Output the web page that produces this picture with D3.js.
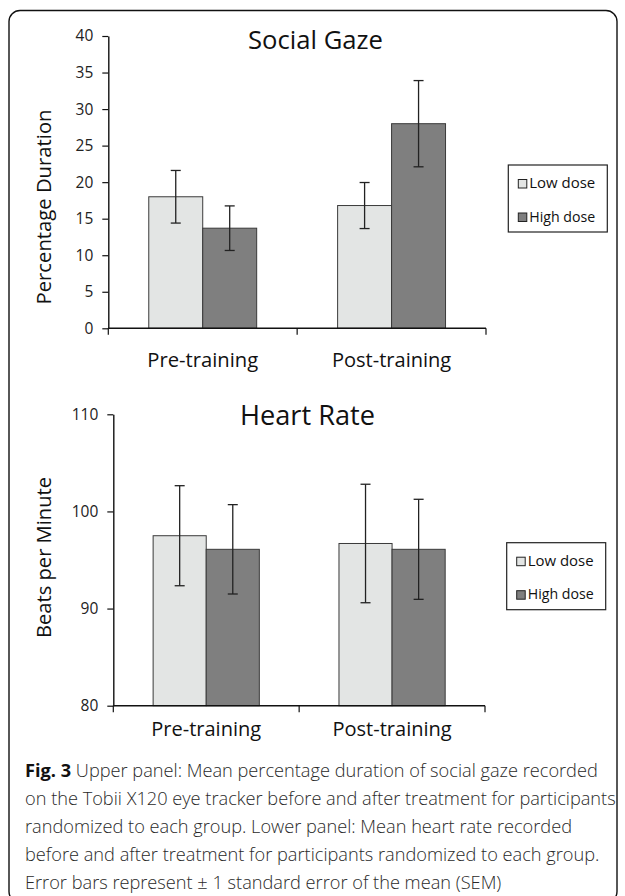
<!DOCTYPE html>
<html><head><meta charset="utf-8">
<script src="https://cdn.jsdelivr.net/npm/d3@7"></script>
<style>body{margin:0;background:#fff}svg{display:block}</style>
</head><body><svg id="c" width="625" height="896"></svg>
<script>
// ---- data ----
const categories = ["Pre-training", "Post-training"];
const series = ["Low dose", "High dose"];
const gazeLow = [18.0, 16.8];
const gazeHigh = [13.7, 28.0];
const gazeLowErr = [3.6, 3.15];
const gazeHighErr = [3.05, 5.9];
const gazeTicks = [0, 5, 10, 15, 20, 25, 30, 35, 40];
const hrLow = [97.5, 96.7];
const hrHigh = [96.1, 96.1];
const hrLowErr = [5.15, 6.1];
const hrHighErr = [4.6, 5.15];
const hrTicks = [80, 90, 100, 110];
const captionBold = "Fig. 3";
const captionLines = [
  " Upper panel: Mean percentage duration of social gaze recorded",
  "on the Tobii X120 eye tracker before and after treatment for participants",
  "randomized to each group. Lower panel: Mean heart rate recorded",
  "before and after treatment for participants randomized to each group.",
  "Error bars represent \u00b1 1 standard error of the mean (SEM)"
];

const FONT = "'Open Sans', 'Noto Sans', sans-serif";
const colors = ["#e3e5e4", "#7f7f7f"];
const svg = d3.select("#c");

function fit(sel, target) {
  const w = sel.node().getComputedTextLength();
  const fs = parseFloat(sel.attr("font-size"));
  sel.attr("font-size", (fs * target / w).toFixed(2));
  return sel;
}

// frame
svg.append("rect").attr("x", 9).attr("y", 10.5).attr("width", 608).attr("height", 892)
  .attr("rx", 11).attr("fill", "none").attr("stroke", "#111").attr("stroke-width", 1.4);

function panel(o) {
  const g = svg.append("g");
  const x = d3.scaleBand().domain(categories).range([o.x0, o.x1]);
  const xs = d3.scaleBand().domain(series).range([0, x.bandwidth()]).paddingOuter(0.75);
  const y = d3.scaleLinear().domain(o.domain).range([o.yb, o.yt]);
  const vals = [o.low, o.high], errs = [o.lowErr, o.highErr];

  // bars
  series.forEach((s, si) => {
    g.selectAll(null).data(categories).enter().append("rect")
      .attr("x", (c) => x(c) + xs(s))
      .attr("y", (c, i) => y(vals[si][i]))
      .attr("width", xs.bandwidth())
      .attr("height", (c, i) => y(o.domain[0]) - y(vals[si][i]))
      .attr("fill", colors[si]).attr("stroke", "#3a3a3a").attr("stroke-width", 1);
  });
  // error bars
  series.forEach((s, si) => {
    categories.forEach((c, i) => {
      const cx = x(c) + xs(s) + xs.bandwidth() / 2;
      const top = y(vals[si][i] + errs[si][i]), bot = y(vals[si][i] - errs[si][i]);
      const eg = g.append("g").attr("stroke", "#222").attr("stroke-width", 1.3);
      eg.append("line").attr("x1", cx).attr("x2", cx).attr("y1", top).attr("y2", bot);
      eg.append("line").attr("x1", cx - 5).attr("x2", cx + 5).attr("y1", top).attr("y2", top);
      eg.append("line").attr("x1", cx - 5).attr("x2", cx + 5).attr("y1", bot).attr("y2", bot);
    });
  });

  // y axis
  const ya = g.append("g").attr("transform", `translate(${o.x0},0)`)
    .call(d3.axisLeft(y).tickValues(o.ticks).tickSize(6).tickSizeOuter(0).tickPadding(9));
  ya.select(".domain").attr("stroke", "#111").attr("stroke-width", 1.4);
  ya.selectAll(".tick line").attr("stroke", "#111").attr("stroke-width", 1.2);
  ya.selectAll(".tick text").attr("font-family", FONT).attr("font-size", 15.5).attr("fill", "#222");

  // x axis
  const yb = y(o.domain[0]);
  g.append("line").attr("x1", o.x0).attr("x2", o.x1).attr("y1", yb).attr("y2", yb)
    .attr("stroke", "#111").attr("stroke-width", 1.4);
  const bounds = categories.map((c) => x(c)).concat([o.x1]);
  g.selectAll(null).data(bounds).enter().append("line")
    .attr("x1", (d) => d).attr("x2", (d) => d).attr("y1", yb).attr("y2", yb + 6.5)
    .attr("stroke", "#111").attr("stroke-width", 1.2);
  categories.forEach((c, i) => {
    const t = g.append("text").text(c).attr("x", x(c) + x.bandwidth() / 2).attr("y", o.labelY)
      .attr("text-anchor", "middle").attr("font-family", FONT).attr("font-size", 18).attr("fill", "#111");
    fit(t, o.labelW[i]);
  });

  // title
  const tt = g.append("text").text(o.title).attr("x", o.titleX).attr("y", o.titleY)
    .attr("text-anchor", "middle").attr("font-family", FONT).attr("font-size", 24).attr("fill", "#111");
  fit(tt, o.titleW);

  // y label
  const yl = g.append("text").text(o.ylabel)
    .attr("transform", `translate(${o.ylabelX},${o.ylabelY}) rotate(-90)`)
    .attr("text-anchor", "middle").attr("font-family", FONT).attr("font-size", 18).attr("fill", "#111");
  fit(yl, o.ylabelLen);

  // legend
  const lg = g.append("g").attr("transform", `translate(${o.lx},${o.ly})`);
  lg.append("rect").attr("width", 99).attr("height", 67).attr("fill", "#fff")
    .attr("stroke", "#222").attr("stroke-width", 1.2);
  series.forEach((s, si) => {
    const by = si === 0 ? 23 : 56.5;
    lg.append("rect").attr("x", 10).attr("y", by - 8.5).attr("width", 8.5).attr("height", 8.5)
      .attr("fill", colors[si]).attr("stroke", "#222").attr("stroke-width", 1);
    const lt = lg.append("text").text(s).attr("x", 21).attr("y", by)
      .attr("font-family", FONT).attr("font-size", 14).attr("fill", "#111");
    fit(lt, 66);
  });
}

panel({
  x0: 108.3, x1: 486, yt: 36, yb: 328.3, domain: [0, 40], ticks: gazeTicks,
  low: gazeLow, high: gazeHigh, lowErr: gazeLowErr, highErr: gazeHighErr,
  title: "Social Gaze", titleX: 315.5, titleY: 48.5, titleW: 135,
  ylabel: "Percentage Duration", ylabelX: 51, ylabelY: 207, ylabelLen: 195,
  labelY: 366.7, labelW: [111, 119.4], lx: 508.3, ly: 165
});
panel({
  x0: 113.3, x1: 485, yt: 414.3, yb: 705.7, domain: [80, 110], ticks: hrTicks,
  low: hrLow, high: hrHigh, lowErr: hrLowErr, highErr: hrHighErr,
  title: "Heart Rate", titleX: 307.5, titleY: 424.5, titleW: 135,
  ylabel: "Beats per Minute", ylabelX: 51, ylabelY: 557.5, ylabelLen: 161,
  labelY: 735.5, labelW: [110, 119.4], lx: 506.7, ly: 542.7
});

// caption
const cap = svg.append("g").attr("font-family", FONT).attr("fill", "#2a2a2a");
const lineYs = [777, 805, 833, 861, 889];
const probe = cap.append("text").text(captionLines[1]).attr("font-size", 16).attr("font-weight", 300);
const pw = probe.node().getComputedTextLength();
probe.remove();
const capFs = 16 * 591 / pw;
captionLines.forEach((ln, i) => {
  const t = cap.append("text").attr("x", 25).attr("y", lineYs[i]).attr("font-size", capFs.toFixed(2))
    .attr("font-weight", 300);
  if (i === 0) {
    t.append("tspan").text(captionBold).attr("font-weight", 700).attr("fill", "#111");
  }
  t.append("tspan").text(ln);
});
</script>
</body></html>
